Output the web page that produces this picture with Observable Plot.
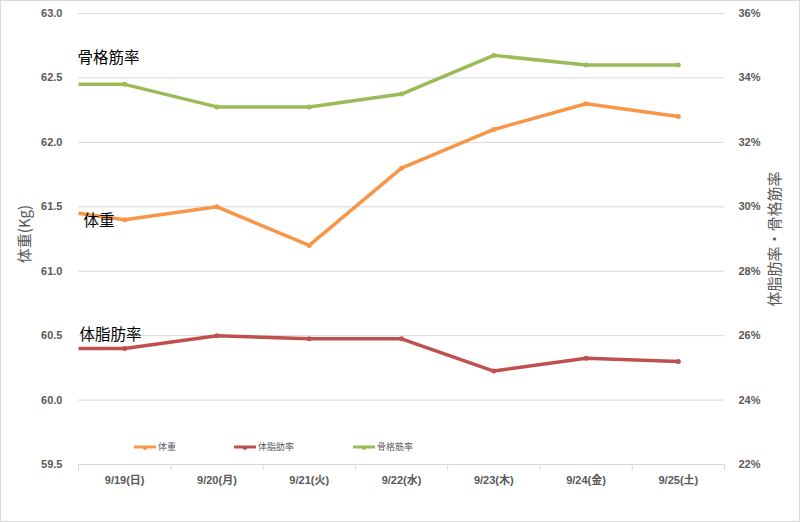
<!DOCTYPE html>
<html>
<head>
<meta charset="utf-8">
<script src="https://cdn.jsdelivr.net/npm/d3@7"></script>
<script src="https://cdn.jsdelivr.net/npm/@observablehq/plot@0.6"></script>
<style>
  html, body { margin: 0; padding: 0; background: #fff; }
  #wrap { position: relative; width: 800px; height: 522px; overflow: hidden; }
  #border { position: absolute; left: 0; top: 0; width: 798px; height: 520px; border: 1px solid #d9d9d9; pointer-events: none; }
  .legend { position: absolute; top: 440px; font: 9px "Noto Sans CJK JP", sans-serif; color: #595959; display: flex; align-items: center; }
  .legend svg { margin-right: 1px; }
</style>
</head>
<body>
<div id="wrap"><div id="border"></div></div>
<script>
// ---- data ----
const categories = ["9/19(日)", "9/20(月)", "9/21(火)", "9/22(水)", "9/23(木)", "9/24(金)", "9/25(土)"];
const weight  = [61.40, 61.50, 61.20, 61.80, 62.10, 62.30, 62.20];   // kg (left axis)
const bodyFat = [25.6, 26.0, 25.9, 25.9, 24.9, 25.3, 25.2];          // % (right axis)
const muscle  = [33.8, 33.1, 33.1, 33.5, 34.7, 34.4, 34.4];          // % (right axis)
// values where the lines enter at the left edge of the plot
const weightLead  = 61.45;
const bodyFatLead = 25.6;
const muscleLead  = 33.8;
const leftTicks  = [59.5, 60.0, 60.5, 61.0, 61.5, 62.0, 62.5, 63.0];
const rightTicks = [22, 24, 26, 28, 30, 32, 34, 36];
const seriesNames = ["体重", "体脂肪率", "骨格筋率"];
const leftTitle = "体重(Kg)";
const rightTitle = "体脂肪率・骨格筋率";
const colors = ["#F79646", "#C0504D", "#9BBB59"];

// right axis (%) mapped onto the left (kg) scale
const pctToKg = p => leftTicks[0] + (p - rightTicks[0]) * (leftTicks[leftTicks.length - 1] - leftTicks[0]) / (rightTicks[rightTicks.length - 1] - rightTicks[0]);

function series(lead, values, toY) {
  return [{x: -0.5, y: toY(lead)}].concat(values.map((v, i) => ({x: i, y: toY(v)})));
}
const id = v => v;
const wData = series(weightLead, weight, id);
const fData = series(bodyFatLead, bodyFat, pctToKg);
const mData = series(muscleLead, muscle, pctToKg);
const allSeries = [wData, fData, mData];
const boundaries = d3.range(categories.length + 1).map(i => i - 0.5);

const jp = '"Noto Sans CJK JP", sans-serif';
const tickFont = '"Liberation Sans", "Noto Sans CJK JP", sans-serif';

const marks = [
  Plot.gridY(leftTicks.slice(1), {stroke: "#d9d9d9", strokeOpacity: 1, strokeWidth: 1}),
  Plot.ruleY([leftTicks[0]], {stroke: "#d9d9d9", strokeWidth: 1}),
  Plot.axisY({ticks: leftTicks, tickFormat: d3.format(".1f"), tickSize: 0, tickPadding: 16,
    fill: "#595959", fontWeight: "bold", fontSize: 11, fontFamily: tickFont, label: null}),
  Plot.axisY({anchor: "right", ticks: leftTicks,
    tickFormat: v => rightTicks[leftTicks.indexOf(v)] + "%", tickSize: 0, tickPadding: 14,
    fill: "#595959", fontWeight: "bold", fontSize: 11, fontFamily: tickFont, label: null}),
  Plot.axisX({ticks: boundaries, tickFormat: () => "", tickSize: 6, stroke: "#d9d9d9", label: null}),
  Plot.axisX({ticks: d3.range(categories.length), tickFormat: i => categories[i], tickSize: 0, tickPadding: 12,
    fill: "#595959", fontWeight: "bold", fontSize: 11, fontFamily: tickFont, label: null}),
  // axis titles
  Plot.text([leftTitle], {frameAnchor: "left", text: d => d, rotate: -90, textAnchor: "middle", lineAnchor: "middle", dx: -53, dy: -5, fontSize: 15, fill: "#595959", fontFamily: jp}),
  Plot.text([rightTitle], {frameAnchor: "right", text: d => d, rotate: -90, textAnchor: "middle", lineAnchor: "middle", dx: 51, dy: 0, fontSize: 15, fill: "#595959", fontFamily: jp})
];
allSeries.forEach((d, k) => {
  marks.push(Plot.line(d, {x: "x", y: "y", stroke: colors[k], strokeWidth: 3.5, strokeLinejoin: "round", strokeLinecap: "butt"}));
  marks.push(Plot.dot(d.slice(1), {x: "x", y: "y", fill: colors[k], r: 2.5}));
});
// series name annotations near the left edge
marks.push(Plot.text([mData[0]], {x: "x", y: "y", text: () => seriesNames[2], textAnchor: "start", dx: -1, dy: -26, fontSize: 15.5, fill: "#000", fontFamily: jp}));
marks.push(Plot.text([wData[0]], {x: "x", y: "y", text: () => seriesNames[0], textAnchor: "start", dx: 5, dy: 8, fontSize: 15.5, fill: "#000", fontFamily: jp}));
marks.push(Plot.text([fData[0]], {x: "x", y: "y", text: () => seriesNames[1], textAnchor: "start", dx: 1, dy: -13, fontSize: 15.5, fill: "#000", fontFamily: jp}));

const chart = Plot.plot({
  width: 800, height: 522,
  marginLeft: 78, marginRight: 76, marginTop: 13, marginBottom: 58,
  style: {fontFamily: jp, fontSize: "15px", color: "#595959", background: "transparent"},
  x: {type: "linear", domain: [-0.5, categories.length - 0.5]},
  y: {domain: [leftTicks[0], leftTicks[leftTicks.length - 1]]},
  marks
});
const wrap = document.getElementById("wrap");
wrap.insertBefore(chart, wrap.firstChild);

// legend (inside plot area, near bottom)
const legendLefts = [133, 233, 352];
seriesNames.forEach((name, k) => {
  const div = document.createElement("div");
  div.className = "legend";
  div.style.left = legendLefts[k] + "px";
  div.innerHTML = `<svg width="24" height="8"><line x1="1" y1="4" x2="23" y2="4" stroke="${colors[k]}" stroke-width="3"/><circle cx="12" cy="5" r="2" fill="${colors[k]}"/></svg><span>${name}</span>`;
  wrap.appendChild(div);
});
</script>
</body>
</html>
